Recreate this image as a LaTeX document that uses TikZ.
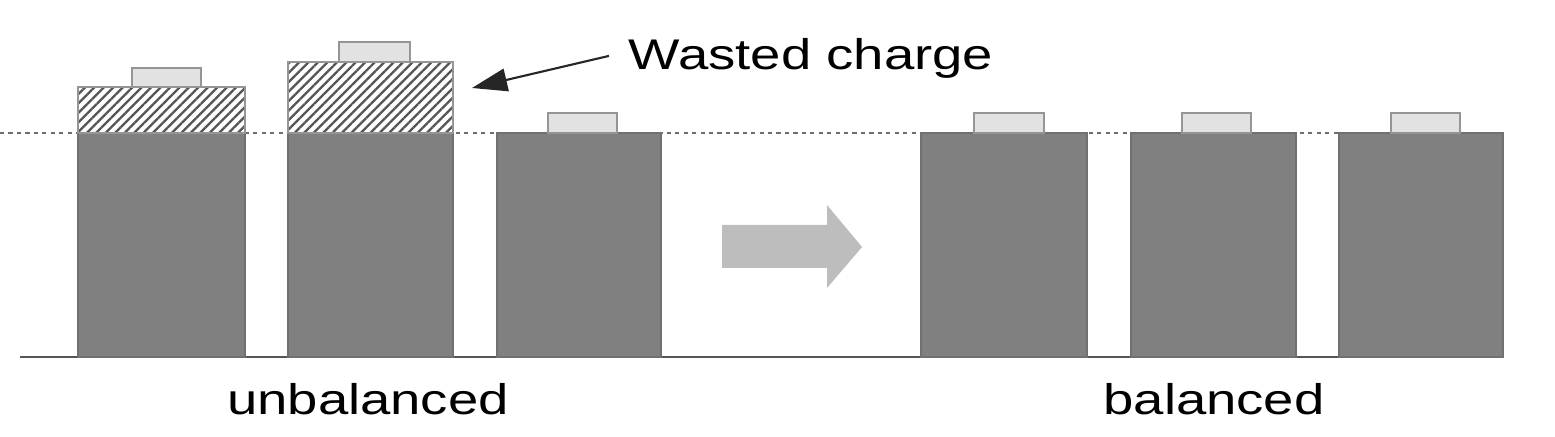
\documentclass[tikz,border=0pt]{standalone}
\usepackage{graphicx}
\usepackage{fontspec}
\setmainfont{Liberation Sans}
\usetikzlibrary{arrows.meta,patterns.meta}
\definecolor{bargray}{HTML}{808080}
\definecolor{baredge}{HTML}{707070}
\definecolor{capfill}{HTML}{E2E2E2}
\definecolor{capedge}{HTML}{959595}
\definecolor{hatchline}{HTML}{555555}
\definecolor{arrowgray}{HTML}{BDBDBD}
\definecolor{dotgray}{HTML}{6E6E6E}
\begin{document}
\begin{tikzpicture}[x=0.01cm,y=-0.01cm,
  barbox/.style={fill=bargray,draw=baredge,line width=0.4pt},
  capbox/.style={fill=capfill,draw=capedge,line width=0.5pt},
  hatchbox/.style={pattern={Lines[angle=45,distance=1.9pt,line width=0.65pt]},pattern color=hatchline,draw=capedge,line width=0.5pt},
  dotline/.style={draw=dotgray,line width=0.6pt,dash pattern=on 1.2pt off 1.2pt},
  groundline/.style={draw=hatchline,line width=0.7pt},
  lbl/.style={inner sep=0pt,font=\fontsize{12.2pt}{14pt}\selectfont,text=black},
  leader/.style={draw=black!85,line width=0.6pt,-{Triangle[length=10pt,width=6.5pt]}}]
\useasboundingbox (0,0) rectangle (1555,437);
% dotted reference line
\draw[dotline] (0,133) -- (1339,133);
% ground line
\draw[groundline] (20,357) -- (1503,357);
% bars
\foreach \l/\r in {78/245,288/453,497/661,921/1087,1131/1296,1339/1503}{
  \filldraw[barbox] (\l,133) rectangle (\r,357);
}
% wasted charge hatched blocks
\filldraw[hatchbox] (78,87) rectangle (245,133);
\filldraw[hatchbox] (288,62) rectangle (453,133);
% caps
\filldraw[capbox] (132,68) rectangle (201,87);
\filldraw[capbox] (339,42) rectangle (410,62);
\foreach \l/\r in {548/617,974/1044,1182/1251,1391/1460}{
  \filldraw[capbox] (\l,113) rectangle (\r,133);
}
% block arrow
\fill[arrowgray] (722,225) -- (827,225) -- (827,205) -- (862,247) -- (827,288) -- (827,268) -- (722,268) -- cycle;
% labels
\node[lbl,anchor=base west] (wc) at (628,70) {\scalebox{1.27}[1]{Wasted charge}};
\node[lbl,anchor=base] (unb) at (368,415) {\scalebox{1.27}[1]{unbalanced}};
\node[lbl,anchor=base] (bal) at (1214,415) {\scalebox{1.27}[1]{balanced}};
\coordinate (tip) at (472,88);
\draw[leader] ([xshift=-0.19cm,yshift=0.03cm]wc.west) -- (tip);
\end{tikzpicture}
\end{document}
